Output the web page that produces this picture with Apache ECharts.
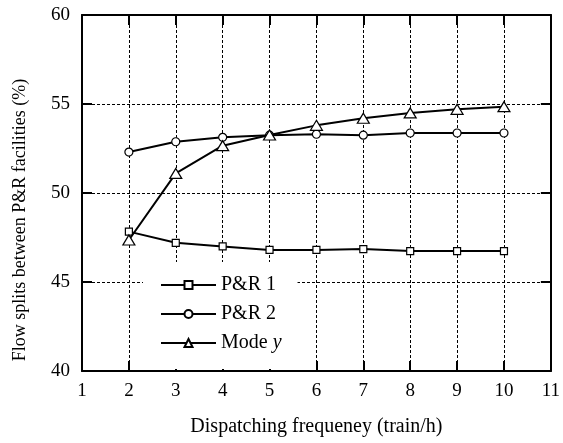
<!DOCTYPE html>
<html>
<head>
<meta charset="utf-8">
<script src="https://cdn.jsdelivr.net/npm/echarts@6/dist/echarts.min.js"></script>
<style>
html,body{margin:0;padding:0;background:#fff;}
#c{width:563px;height:443px;}
</style>
</head>
<body>
<div id="c"></div>
<script>
var frequency = [2, 3, 4, 5, 6, 7, 8, 9, 10];
var pr1 = [47.83, 47.2, 47.0, 46.8, 46.8, 46.85, 46.74, 46.74, 46.74];
var pr2 = [52.3, 52.88, 53.13, 53.25, 53.3, 53.25, 53.37, 53.37, 53.37];
var modeY = [47.36, 51.1, 52.66, 53.26, 53.8, 54.2, 54.5, 54.7, 54.85];
var xTicks = [1, 2, 3, 4, 5, 6, 7, 8, 9, 10, 11];
var yTicks = [40, 45, 50, 55, 60];

function pairs(ys){ return frequency.map(function(x,i){ return [x, ys[i]]; }); }

var FONT = '"Liberation Serif", "Times New Roman", serif';
var chart = echarts.init(document.getElementById('c'), null, {renderer:'canvas'});

var gridLine = {show:true, lineStyle:{color:'#000', type:[3,2], width:1}};
var option = {
  backgroundColor:'#fff',
  animation:false,
  textStyle:{fontFamily:FONT, color:'#000'},
  grid:{left:82, right:12, top:15, bottom:72},
  xAxis:[{
    type:'value', min:xTicks[0], max:xTicks[xTicks.length-1], interval:1,
    name:'Dispatching frequeney (train/h)', nameLocation:'middle', nameGap:46,
    nameTextStyle:{fontFamily:FONT, fontSize:20, color:'#000'},
    axisLine:{show:true, lineStyle:{color:'#000', width:2}},
    axisTick:{show:true, inside:true, length:10, lineStyle:{color:'#000', width:2}},
    axisLabel:{fontFamily:FONT, fontSize:19, color:'#000', margin:11},
    splitLine:gridLine
  },{
    type:'value', position:'top', min:xTicks[0], max:xTicks[xTicks.length-1], interval:1,
    axisLine:{show:true, lineStyle:{color:'#000', width:2}},
    axisTick:{show:true, inside:true, length:10, lineStyle:{color:'#000', width:2}},
    axisLabel:{show:false}, splitLine:{show:false}
  }],
  yAxis:[{
    type:'value', min:yTicks[0], max:yTicks[yTicks.length-1], interval:5,
    axisLine:{show:true, lineStyle:{color:'#000', width:2}},
    axisTick:{show:true, inside:true, length:10, lineStyle:{color:'#000', width:2}},
    axisLabel:{fontFamily:FONT, fontSize:19, color:'#000', margin:12},
    splitLine:gridLine
  },{
    type:'value', position:'right', min:yTicks[0], max:yTicks[yTicks.length-1], interval:5,
    axisLine:{show:true, lineStyle:{color:'#000', width:2}},
    axisTick:{show:true, inside:true, length:10, lineStyle:{color:'#000', width:2}},
    axisLabel:{show:false}, splitLine:{show:false}
  }],
  legend:{
    left:143, top:262, orient:'vertical',
    padding:[13, 16, 16, 17],
    backgroundColor:'#fff',
    itemWidth:55, itemHeight:10, itemGap:9,
    textStyle:{fontFamily:FONT, fontSize:20, color:'#000', lineHeight:20,
      rich:{i:{fontFamily:FONT, fontSize:20, fontStyle:'italic', color:'#000'}}},
    formatter:function(n){ return n === 'Mode y' ? 'Mode {i|y}' : n; },
    data:['P&R 1','P&R 2','Mode y']
  },
  graphic:[{
    type:'text', x:20, y:220, rotation:Math.PI/2,
    style:{text:'Flow splits between P&R facilities (%)', font:'18px ' + FONT, fill:'#000',
      align:'center', verticalAlign:'middle'}
  }],
  series:[{
    name:'P&R 1', type:'line', data:pairs(pr1),
    symbol:'rect', symbolSize:7, showAllSymbol:true,
    lineStyle:{color:'#000', width:2},
    itemStyle:{color:'#fff', borderColor:'#000', borderWidth:1.2},
    z:3
  },{
    name:'P&R 2', type:'line', data:pairs(pr2),
    symbol:'circle', symbolSize:8, showAllSymbol:true,
    lineStyle:{color:'#000', width:2},
    itemStyle:{color:'#fff', borderColor:'#000', borderWidth:1.2},
    z:3
  },{
    name:'Mode y', type:'line', data:pairs(modeY),
    symbol:'triangle', symbolSize:[12,10], showAllSymbol:true,
    lineStyle:{color:'#000', width:2},
    itemStyle:{color:'#fff', borderColor:'#000', borderWidth:1.2},
    z:4
  }]
};
chart.setOption(option);
</script>
</body>
</html>
